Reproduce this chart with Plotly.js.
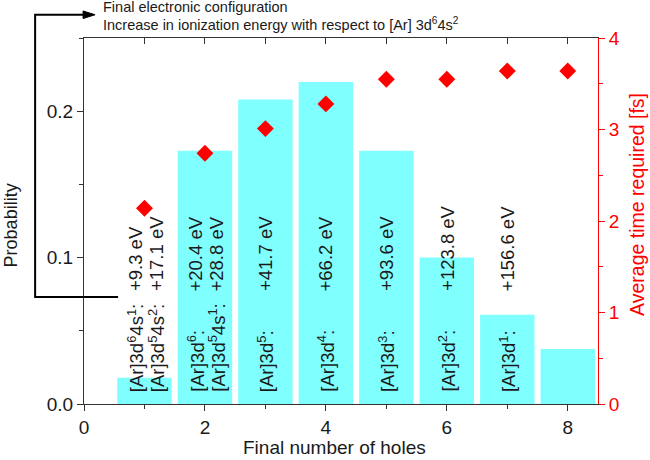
<!DOCTYPE html>
<html>
<head>
<meta charset="utf-8">
<script src="https://cdn.plot.ly/plotly-3.0.1.min.js"></script>
<style>html,body{margin:0;padding:0;background:#fff;}#chart{width:650px;height:460px;}</style>
</head>
<body>
<div id="chart"></div>
<script>
// ---- data ----
const holes = [1, 2, 3, 4, 5, 6, 7, 8];
const probability = [0.018, 0.173, 0.208, 0.220, 0.173, 0.100, 0.061, 0.0375];
const avgTime = [2.14, 2.74, 3.01, 3.28, 3.55, 3.55, 3.64, 3.64];
const configLabels = [
  ["[Ar]3d<sup>6</sup>4s<sup>1</sup>:", "[Ar]3d<sup>5</sup>4s<sup>2</sup>:"],
  ["[Ar]3d<sup>6</sup>:", "[Ar]3d<sup>5</sup>4s<sup>1</sup>:"],
  ["[Ar]3d<sup>5</sup>:"],
  ["[Ar]3d<sup>4</sup>:"],
  ["[Ar]3d<sup>3</sup>:"],
  ["[Ar]3d<sup>2</sup>:"],
  ["[Ar]3d<sup>1</sup>:"],
  []
];
const energyLabels = [
  ["+9.3 eV", "+17.1 eV"],
  ["+20.4 eV", "+28.8 eV"],
  ["+41.7 eV"],
  ["+66.2 eV"],
  ["+93.6 eV"],
  ["+123.8 eV"],
  ["+156.6 eV"],
  []
];
const xTickVals = [0, 2, 4, 6, 8];
const xTitle = "Final number of holes";
const yTitle = "Probability";
const y2Title = "Average time required [fs]";
const legendLine1 = "Final electronic configuration";
const legendLine2 = "Increase in ionization energy with respect to [Ar] 3d<sup>6</sup>4s<sup>2</sup>";

// ---- styling ----
const FONT = "Liberation Sans, Arial, Helvetica, sans-serif";
const TXT = "#1a1a1a";
const RED = "#ff0000";
const AX = "#333";

const traces = [
  {
    type: "bar", x: holes, y: probability, width: 0.9,
    marker: {color: "#80ffff", line: {width: 0}},
    xaxis: "x", yaxis: "y", hoverinfo: "skip"
  },
  {
    type: "scatter", mode: "markers", x: holes, y: avgTime,
    marker: {symbol: "diamond", color: RED, size: 13, line: {width: 0}},
    xaxis: "x", yaxis: "y2", hoverinfo: "skip"
  },
  {
    type: "scatter", mode: "markers", x: [], y: [], xaxis: "x2", yaxis: "y", hoverinfo: "skip"
  }
];

const annotations = [];
const CONFIG_Y = 0.028, ENERGY_Y = 0.303;
holes.forEach((h, i) => {
  const n = configLabels[i].length;
  const shifts = n === 2 ? [-9, 12] : [0];
  configLabels[i].forEach((t, j) => {
    annotations.push({
      x: h, xref: "x", y: CONFIG_Y, yref: "paper", text: t, showarrow: false,
      textangle: -90, xanchor: "center", yanchor: "bottom", xshift: shifts[j],
      font: {family: FONT, size: 18.5, color: TXT}
    });
  });
  energyLabels[i].forEach((t, j) => {
    annotations.push({
      x: h, xref: "x", y: ENERGY_Y, yref: "paper", text: t, showarrow: false,
      textangle: -90, xanchor: "center", yanchor: "bottom", xshift: shifts[j],
      font: {family: FONT, size: 18.5, color: TXT}
    });
  });
});
annotations.push({
  x: 0.033, xref: "paper", y: 1.084, yref: "paper", text: legendLine1, showarrow: false,
  xanchor: "left", yanchor: "middle", font: {family: FONT, size: 14.5, color: TXT}
});
annotations.push({
  x: 0.033, xref: "paper", y: 1.039, yref: "paper", text: legendLine2, showarrow: false,
  xanchor: "left", yanchor: "middle", font: {family: FONT, size: 14.5, color: TXT}
});
// axis titles
annotations.push({
  x: 0.488, xref: "paper", y: -0.1175, yref: "paper", text: xTitle, showarrow: false,
  xanchor: "center", yanchor: "middle", font: {family: FONT, size: 19, color: TXT}
});
annotations.push({
  x: -0.142, xref: "paper", y: 0.488, yref: "paper", text: yTitle, showarrow: false,
  textangle: -90, xanchor: "center", yanchor: "middle", font: {family: FONT, size: 18, color: TXT}
});
annotations.push({
  x: 1.0759, xref: "paper", y: 0.544, yref: "paper", text: y2Title, showarrow: false,
  textangle: -90, xanchor: "center", yanchor: "middle", font: {family: FONT, size: 19.5, color: RED}
});

const shapes = [
  {type: "path", xref: "paper", yref: "paper",
   path: "M 0.0663 0.2923 L -0.0951 0.2923 L -0.0951 1.0635 L 0.0 1.0635",
   line: {color: "#000", width: 2}},
  {type: "path", xref: "paper", yref: "paper",
   path: "M -0.0018 1.0738 L 0.0216 1.0635 L -0.0018 1.0533 Z",
   fillcolor: "#000", line: {color: "#000", width: 1}}
];

const layout = {
  width: 650, height: 460,
  margin: {l: 84, r: 52, t: 38, b: 56, pad: 0},
  paper_bgcolor: "#fff", plot_bgcolor: "#fff",
  showlegend: false,
  font: {family: FONT, color: TXT, size: 19},
  xaxis: {
    range: [0, 8.5], tickvals: xTickVals, ticks: "outside", ticklen: 6, tickwidth: 1,
    tickcolor: AX, showline: true, linecolor: AX, linewidth: 1,
    showgrid: false, zeroline: false,
    minor: {dtick: 1, tick0: 0, ticks: "outside", ticklen: 4, tickcolor: AX, showgrid: false},
    tickfont: {family: FONT, size: 19, color: TXT}
  },
  xaxis2: {
    range: [0, 8.5], overlaying: "x", side: "top", dtick: 1, tick0: 0,
    ticks: "inside", ticklen: 6, tickcolor: AX, showticklabels: false,
    showline: true, linecolor: AX, linewidth: 1, showgrid: false, zeroline: false
  },
  yaxis: {
    range: [0, 0.25], dtick: 0.1, tick0: 0, tickformat: ".1f",
    ticks: "outside", ticklen: 6, tickcolor: AX,
    showline: true, linecolor: AX, linewidth: 1, showgrid: false, zeroline: false,
    minor: {dtick: 0.05, tick0: 0, ticks: "outside", ticklen: 4, tickcolor: AX, showgrid: false},
    tickfont: {family: FONT, size: 19, color: TXT}
  },
  yaxis2: {
    range: [0, 4], overlaying: "y", side: "right", dtick: 1, tick0: 0,
    ticks: "outside", ticklen: 6, tickcolor: RED,
    showline: true, linecolor: RED, linewidth: 1, showgrid: false, zeroline: false,
    minor: {dtick: 0.5, tick0: 0, ticks: "outside", ticklen: 4, tickcolor: RED, showgrid: false},
    tickfont: {family: FONT, size: 19, color: RED}
  },
  annotations: annotations,
  shapes: shapes
};

Plotly.newPlot("chart", traces, layout, {displayModeBar: false, staticPlot: true});
</script>
</body>
</html>
